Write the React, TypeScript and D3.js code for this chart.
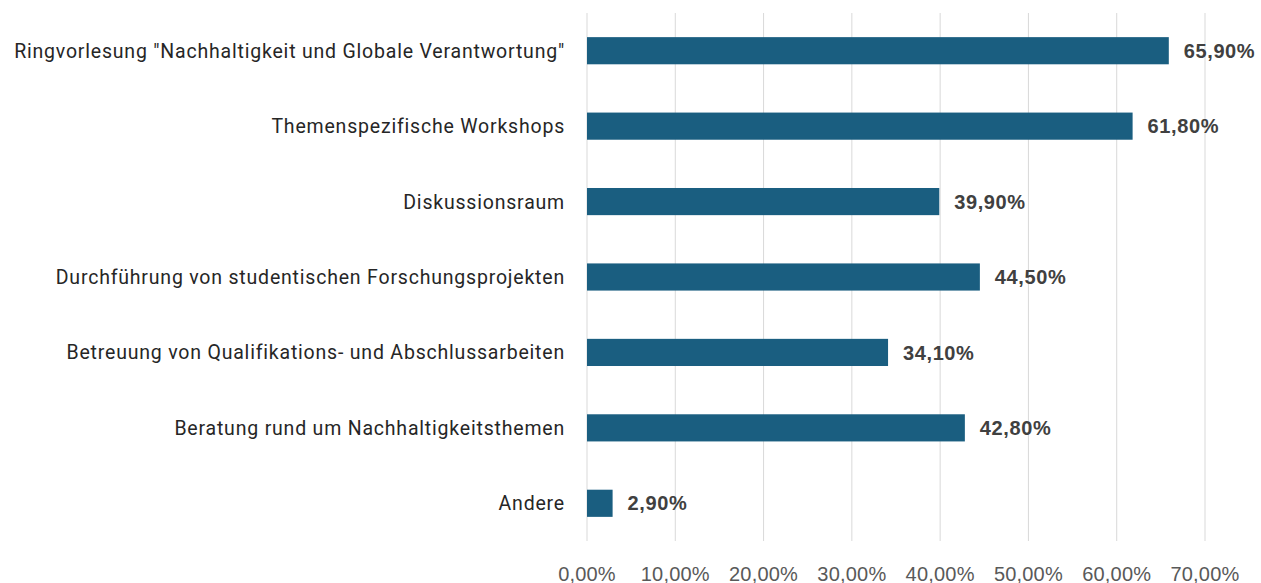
import React, { useEffect, useRef } from "react";
import * as d3 from "d3";

const categories = [
  'Ringvorlesung "Nachhaltigkeit und Globale Verantwortung"',
  "Themenspezifische Workshops",
  "Diskussionsraum",
  "Durchführung von studentischen Forschungsprojekten",
  "Betreuung von Qualifikations- und Abschlussarbeiten",
  "Beratung rund um Nachhaltigkeitsthemen",
  "Andere",
];
const values = [65.9, 61.8, 39.9, 44.5, 34.1, 42.8, 2.9];
const ticks = [0, 10, 20, 30, 40, 50, 60, 70];

const width = 1261;
const height = 583;
const margin = { top: 13, bottom: 42, left: 587, right: 56 };

const fmt = (v: number) => v.toFixed(2).replace(".", ",") + "%";

export default function App() {
  const ref = useRef<SVGSVGElement>(null);

  useEffect(() => {
    const svg = d3.select(ref.current);
    svg.selectAll("*").remove();

    const x = d3
      .scaleLinear()
      .domain([0, 70])
      .range([margin.left, width - margin.right]);

    const y = d3
      .scaleBand()
      .domain(categories)
      .range([margin.top, height - margin.bottom])
      .paddingInner(0.64)
      .paddingOuter(0.32);

    // grid
    svg
      .append("g")
      .selectAll("line")
      .data(ticks)
      .join("line")
      .attr("x1", (d) => x(d))
      .attr("x2", (d) => x(d))
      .attr("y1", margin.top)
      .attr("y2", height - margin.bottom)
      .attr("stroke", "#d9d9d9")
      .attr("stroke-width", 1);

    // bars
    svg
      .append("g")
      .attr("fill", "#1a5e80")
      .selectAll("rect")
      .data(values)
      .join("rect")
      .attr("x", x(0))
      .attr("y", (d, i) => y(categories[i])!)
      .attr("width", (d) => x(d) - x(0))
      .attr("height", y.bandwidth());

    // value labels
    svg
      .append("g")
      .selectAll("text")
      .data(values)
      .join("text")
      .attr("x", (d) => x(d) + 15)
      .attr("y", (d, i) => y(categories[i])! + y.bandwidth() / 2)
      .attr("dy", "0.36em")
      .attr("font-family", "'Liberation Sans', Arial, sans-serif")
      .attr("font-weight", "bold")
      .attr("font-size", 20)
      .attr("letter-spacing", 0.6)
      .attr("fill", "#404040")
      .text((d) => fmt(d));

    // category labels
    svg
      .append("g")
      .selectAll("text")
      .data(categories)
      .join("text")
      .attr("x", margin.left - 22)
      .attr("y", (d) => y(d)! + y.bandwidth() / 2)
      .attr("dy", "0.36em")
      .attr("text-anchor", "end")
      .attr("font-family", "Roboto, sans-serif")
      .attr("font-size", 19.5)
      .attr("letter-spacing", 0.8)
      .attr("fill", "#262626")
      .text((d) => d);

    // x axis labels (cut at the bottom edge, as in the source)
    svg
      .append("g")
      .selectAll("text")
      .data(ticks)
      .join("text")
      .attr("x", (d) => x(d))
      .attr("y", 581)
      .attr("text-anchor", "middle")
      .attr("font-family", "'Liberation Sans', Arial, sans-serif")
      .attr("font-size", 20)
      .attr("letter-spacing", 0.2)
      .attr("fill", "#595959")
      .text((d) => fmt(d));
  }, []);

  return (
    <svg
      ref={ref}
      width={width}
      height={height}
      style={{ position: "absolute", left: 0, top: 0, background: "#fff" }}
    />
  );
}
